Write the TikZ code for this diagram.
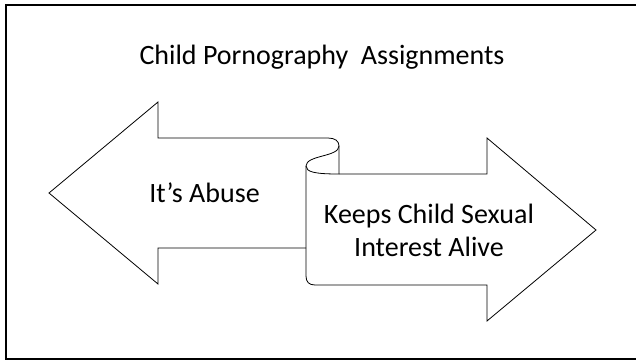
\documentclass[tikz,border=0pt]{standalone}
\usepackage{fontspec}
\setmainfont{Carlito}
\usetikzlibrary{calc, positioning}

\begin{document}
\begin{tikzpicture}[
	x=1pt, y=-1pt,
	slide frame/.style={
		draw=black,
		line width=2pt
	},
	arrow outline/.style={
		draw=black,
		line width=0.8pt,
		line join=miter
	},
	slide title/.style={
		font=\fontsize{28}{34}\selectfont,
		anchor=base
	},
	arrow text/.style={
		font=\fontsize{28}{33}\selectfont,
		align=center
	}
]
	\useasboundingbox (0,0) rectangle (636,360);
	\draw[slide frame] (650,4.5) -- (6,4.5) -- (6,358.5) -- (650,358.5);

	\node[slide title] (title) at (322,64) {Child Pornography\ \ Assignments};

	% left arrow
	\draw[arrow outline] (306,248) -- (158,248) -- (158,284) -- (49,193)
		-- (158,102) -- (158,138) -- (328,138)
		.. controls (335,138) and (339,141) .. (339,146) -- (339,174);
	% right arrow
	\draw[arrow outline] (339,174) -- (487,174) -- (487,138) -- (596,230)
		-- (487,321) -- (487,285) -- (315,285)
		.. controls (309,285) and (306,282) .. (306,276) -- (306,166);
	% the curl between them
	\draw[arrow outline] (339,146) .. controls (339,157) and (306,155) .. (306,166)
		.. controls (306,172) and (315,174) .. (339,174);

	\node[arrow text, anchor=base] (abuse) at (204.5,202) {It’s Abuse};
	\node[arrow text] (alive) at (429,230) {Keeps Child Sexual\\Interest Alive};
\end{tikzpicture}
\end{document}
